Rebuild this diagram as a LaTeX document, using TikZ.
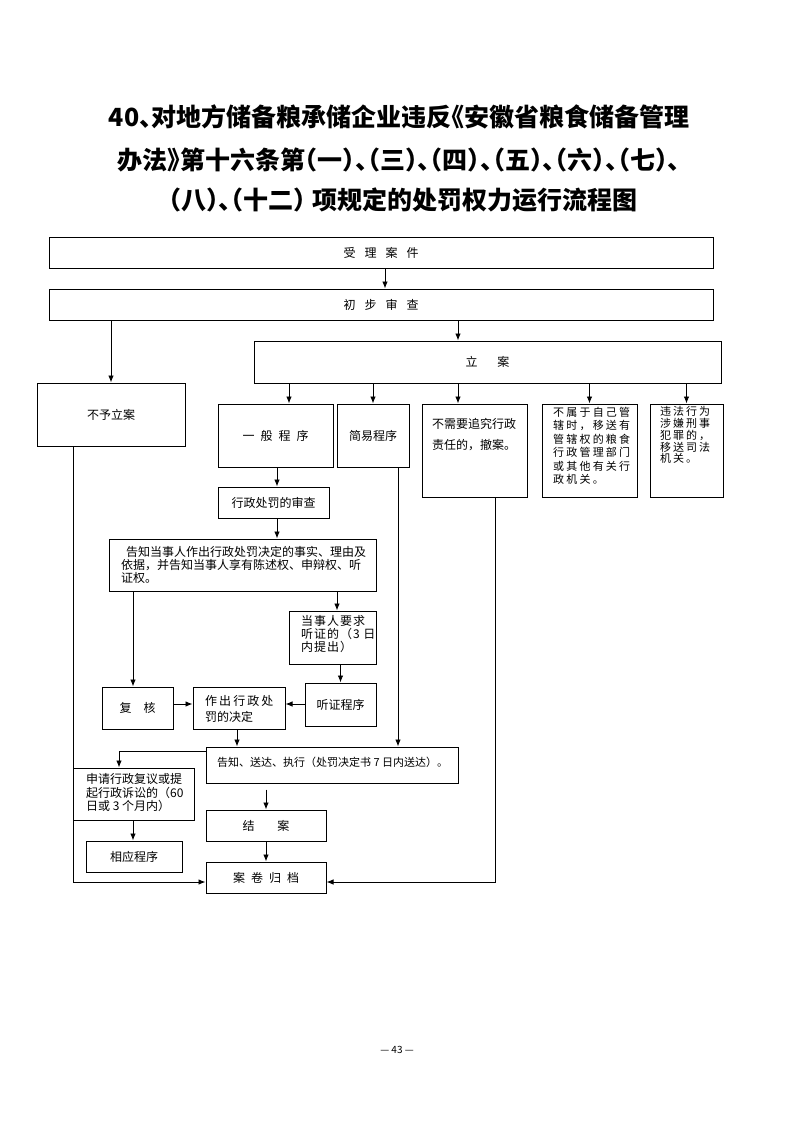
\documentclass[tikz,border=0pt]{standalone}
\usepackage{fontspec}
\setmainfont{Noto Sans CJK SC}
\newfontfamily\titlefont[RawFeature=+halt]{Noto Sans CJK SC}
\usetikzlibrary{arrows.meta}
\begin{document}
\begin{tikzpicture}[x=1pt,y=-1pt,
  box/.style={draw, line width=1pt, inner sep=0pt, align=center, font=\fontsize{12}{13}\selectfont},
  txt/.style={inner sep=0pt, align=left, anchor=north west, font=\fontsize{12}{13}\selectfont},
  arr/.style={line width=0.9pt, -{Latex[length=7pt,width=5.5pt]}},
  ttl/.style={font={\titlefont\bfseries\fontsize{25}{30}\selectfont}, inner sep=0pt}]
\useasboundingbox (0,0) rectangle (793,1122);
% title
\node[ttl] (t1) at (399,117) {40、对地方储备粮承储企业违反《安徽省粮食储备管理};
\node[ttl] (t2) at (399,160) {办法》第十六条第（一）、（三）、（四）、（五）、（六）、（七）、};
\node[ttl] (t3) at (403,200) {（八）、（十二）\hspace{6pt}项规定的处罚权力运行流程图};
% boxes
\node[box, minimum width=664pt, minimum height=31pt] (A) at (381,252.5) {受\hspace{9pt}理\hspace{9pt}案\hspace{9pt}件};
\node[box, minimum width=664pt, minimum height=31pt] (B) at (381,304.5) {初\hspace{9pt}步\hspace{9pt}审\hspace{9pt}查};
\node[box, minimum width=467pt, minimum height=42pt] (C) at (487.5,362) {立\hspace{20pt}案};
\node[box, minimum width=148pt, minimum height=63pt] (D) at (111,414.5) {不予立案};
\node[box, minimum width=115pt, minimum height=63pt] (E) at (275.5,435.5) {一\hspace{6pt}般\hspace{6pt}程\hspace{6pt}序};
\node[box, minimum width=72pt, minimum height=63pt] (F) at (373,435.5) {简易程序};
\node[box, minimum width=105pt, minimum height=93pt] (G) at (474.5,450.5) {};
\node[txt, font=\fontsize{12}{21}\selectfont] (Gt) at (432,418) {不需要追究行政\\责任的，撤案。};
\node[box, minimum width=95pt, minimum height=93pt] (H) at (589.5,450.5) {};
\node[txt, font=\fontsize{11}{13.4}\selectfont\addfontfeature{LetterSpace=20}] (Ht) at (553,407) {不属于自己管\\辖时，移送有\\管辖权的粮食\\行政管理部门\\或其他有关行\\政机关。};
\node[box, minimum width=73pt, minimum height=93pt] (I) at (686.5,450.5) {};
\node[txt, font=\fontsize{11}{11.7}\selectfont\addfontfeature{LetterSpace=18}] (It) at (660,406.5) {违法行为\\涉嫌刑事\\犯罪的，\\移送司法\\机关。};
\node[box, minimum width=111pt, minimum height=31pt] (J) at (273.5,502.5) {行政处罚的审查};
\node[box, minimum width=267pt, minimum height=52pt] (K) at (242.5,565) {};
\node[txt] (Kt) at (121,546.5) {\hspace{5pt}告知当事人作出行政处罚决定的事实、理由及\\依据，并告知当事人享有陈述权、申辩权、听\\证权。};
\node[box, minimum width=87pt, minimum height=53pt] (M) at (332.5,637.5) {};
\node[txt, font=\fontsize{12}{13}\selectfont\addfontfeature{LetterSpace=8}] (Mt) at (301,615.5) {当事人要求\\听证的（3 日\\内提出）};
\node[box, minimum width=71pt, minimum height=43pt] (N) at (340.5,704.5) {听证程序};
\node[box, minimum width=71pt, minimum height=42pt] (L) at (137.5,708) {复\hspace{12pt}核};
\node[box, minimum width=92pt, minimum height=42pt] (O) at (239,708) {};
\node[txt, font=\fontsize{12}{16}\selectfont] (Ot) at (205,695.5) {{\addfontfeature{LetterSpace=17}作出行政处}\\罚的决定};
\node[box, minimum width=252pt, minimum height=36pt] (P) at (332,765) {};
\node[inner sep=0pt, anchor=west, font=\fontsize{11}{13}\selectfont] (Pt) at (217,762) {告知、送达、执行（处罚决定书 7 日内送达）。};
\node[box, minimum width=121pt, minimum height=52pt] (Q) at (133.5,794) {};
\node[txt, font=\fontsize{12}{13.5}\selectfont] (Qt) at (86,773.5) {申请行政复议或提\\起行政诉讼的（60\\日或 3 个月内）};
\node[box, minimum width=96pt, minimum height=31pt] (R) at (134,856.5) {相应程序};
\node[box, minimum width=120pt, minimum height=31pt] (S) at (266,825.5) {结\hspace{23pt}案};
\node[box, minimum width=120pt, minimum height=31pt] (T) at (266,877.5) {案\hspace{6pt}卷\hspace{6pt}归\hspace{6pt}档};
\node[font=\fontsize{10}{12}\selectfont] (pg) at (397,1050) {— 43 —};
% helper coordinates
\coordinate (x73) at (73,0);
\coordinate (x119) at (119,0);
\coordinate (x133) at (133,0);
\coordinate (x237) at (237,0);
\coordinate (x277) at (277,0);
\coordinate (x289) at (289,0);
\coordinate (x337) at (337,0);
\coordinate (x385) at (385,0);
\coordinate (x398) at (398,0);
\coordinate (x458) at (458,0);
\coordinate (x495) at (495,0);
\coordinate (y704) at (0,704);
\coordinate (y751) at (0,751);
\coordinate (y882) at (0,882);
\coordinate (pb) at ([yshift=-6pt]P.south);
% connectors
\draw[arr] (A.south -| x385) -- (B.north -| x385);
\draw[arr] (B.south -| x458) -- (C.north -| x458);
\draw[arr] (B.south -| D.north) -- (D.north);
\draw[arr] (C.south -| x289) -- (E.north -| x289);
\draw[arr] (C.south -| F.north) -- (F.north);
\draw[arr] (C.south -| x458) -- (G.north -| x458);
\draw[arr] (C.south -| H.north) -- (H.north);
\draw[arr] (C.south -| I.north) -- (I.north);
\draw[arr] (E.south -| x277) -- (J.north -| x277);
\draw[arr] (J.south -| x277) -- (K.north -| x277);
\draw[arr] (K.south -| x133) -- (L.north -| x133);
\draw[arr] (K.south -| x337) -- (M.north -| x337);
\draw[arr] (M.south -| N.north) -- (N.north);
\draw[arr] (L.east |- y704) -- (O.west |- y704);
\draw[arr] (N.west |- y704) -- (O.east |- y704);
\draw[arr] (O.south -| x237) -- (P.north -| x237);
\draw[arr] (F.south -| x398) -- (P.north -| x398);
\draw[arr] (P.west |- y751) -| (Q.north -| x119);
\draw[arr] (Q.south -| x133) -- (R.north -| x133);
\draw[arr] (pb -| S.north) -- (S.north);
\draw[arr] (S.south) -- (T.north);
\draw[arr] (D.south -| x73) |- (T.west |- y882);
\draw[arr] (G.south -| x495) |- (T.east |- y882);
\end{tikzpicture}
\end{document}
